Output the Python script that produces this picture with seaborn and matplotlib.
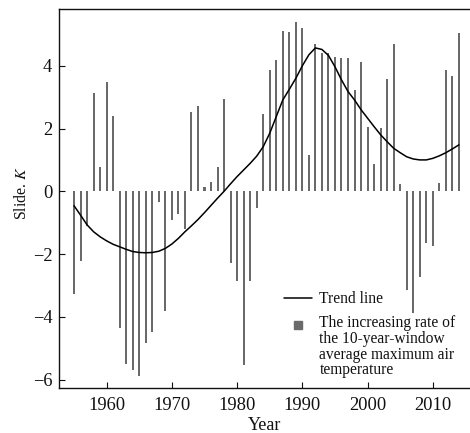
import numpy as np
import pandas as pd
import matplotlib
matplotlib.use("Agg")
import matplotlib.pyplot as plt
import seaborn as sns
from matplotlib.lines import Line2D
from matplotlib.legend_handler import HandlerLine2D

years = list(range(1955, 2015))
rate = [-3.28, -2.22, -1.11, 3.13, 0.77, 3.47, 2.40, -4.35, -5.51, -5.70,
        -5.88, -4.83, -4.47, -0.35, -3.80, -0.90, -0.73, -1.21, 2.52, 2.72,
        0.15, 0.31, 0.78, 2.94, -2.30, -2.85, -5.54, -2.85, -0.52, 2.46,
        3.86, 4.19, 5.12, 5.07, 5.38, 5.22, 1.17, 4.69, 4.42, 4.40,
        4.27, 4.24, 4.24, 3.22, 4.12, 2.05, 0.87, 2.01, 3.58, 4.70,
        0.23, -3.13, -3.87, -2.74, -1.64, -1.73, 0.25, 3.87, 3.67, 5.03]
trend = [-0.46, -0.76, -1.07, -1.29, -1.45, -1.58, -1.69, -1.77, -1.85, -1.92,
         -1.95, -1.96, -1.95, -1.91, -1.82, -1.68, -1.50, -1.29, -1.10, -0.90,
         -0.68, -0.45, -0.22, 0.00, 0.24, 0.47, 0.68, 0.89, 1.12, 1.42,
         1.85, 2.38, 2.91, 3.25, 3.60, 4.00, 4.35, 4.57, 4.52, 4.33,
         3.97, 3.55, 3.18, 2.91, 2.60, 2.33, 2.06, 1.80, 1.58, 1.37,
         1.23, 1.10, 1.03, 1.00, 1.00, 1.05, 1.13, 1.23, 1.35, 1.48]
yticks = [-6, -4, -2, 0, 2, 4]
xticks = [1960, 1970, 1980, 1990, 2000, 2010]

df = pd.DataFrame({"Year": years, "rate": rate, "trend": trend})

sns.set_theme(style="ticks")
plt.rcParams["font.family"] = ["Liberation Serif", "DejaVu Serif"]
plt.rcParams["mathtext.fontset"] = "stix"

fig = plt.figure(figsize=(4.7, 4.33), dpi=100)
ax = fig.add_axes([0.126, 0.1046, 0.874, 0.8739])

ink = "#111111"
bar_color = "#6a6a6a"
sns.barplot(data=df, x="Year", y="rate", native_scale=True, width=0.31,
            color=bar_color, saturation=1, linewidth=0, ax=ax)
sns.lineplot(data=df, x="Year", y="trend", color="black", linewidth=1.1, ax=ax)

ax.set_xlim(1952.73, 2015.7)
ax.set_ylim(-6.26, 5.8)
ax.set_xticks(xticks)
ax.set_yticks(yticks)
ax.tick_params(direction="in", length=4, width=0.8, labelsize=13.3, colors=ink,
               labelcolor=ink)
ax.tick_params(axis="x", pad=6.5)
ax.tick_params(axis="y", pad=5)
for s in ["left", "bottom", "top"]:
    ax.spines[s].set_linewidth(1.0)
    ax.spines[s].set_color(ink)
ax.spines["right"].set_visible(False)

ax.set_xlabel("Year", fontsize=13, color=ink, labelpad=2)
ax.set_ylabel("Slide. $\\mathit{K}$", fontsize=11.3, color=ink)
ax.yaxis.set_label_coords(-0.070, 0.515)


class ShiftedHandler(HandlerLine2D):
    def __init__(self, shift_pts, **kw):
        super().__init__(**kw)
        self.shift_pts = shift_pts

    def create_artists(self, legend, orig_handle, xdescent, ydescent,
                       width, height, fontsize, trans):
        return super().create_artists(legend, orig_handle, xdescent,
                                      ydescent - 2 * self.shift_pts,
                                      width, height, fontsize, trans)


trend_handle = Line2D([], [], color="black", linewidth=1.1)
rate_handle = Line2D([], [], color=bar_color, marker="s", linestyle="none",
                     markersize=5.4)
labels = ["Trend line",
          "The increasing rate of\nthe 10-year-window\naverage maximum air\ntemperature"]
leg = ax.legend([trend_handle, rate_handle], labels, loc="lower right",
                frameon=False, fontsize=11.2, handlelength=1.83,
                handletextpad=0.46, borderaxespad=0.2, labelspacing=0.5,
                bbox_to_anchor=(0.988, 0.0),
                handler_map={rate_handle: ShiftedHandler(16.2)})
for t in leg.get_texts():
    t.set_color(ink)
    t.set_linespacing(0.98)

fig.savefig("out.png", dpi=100)
